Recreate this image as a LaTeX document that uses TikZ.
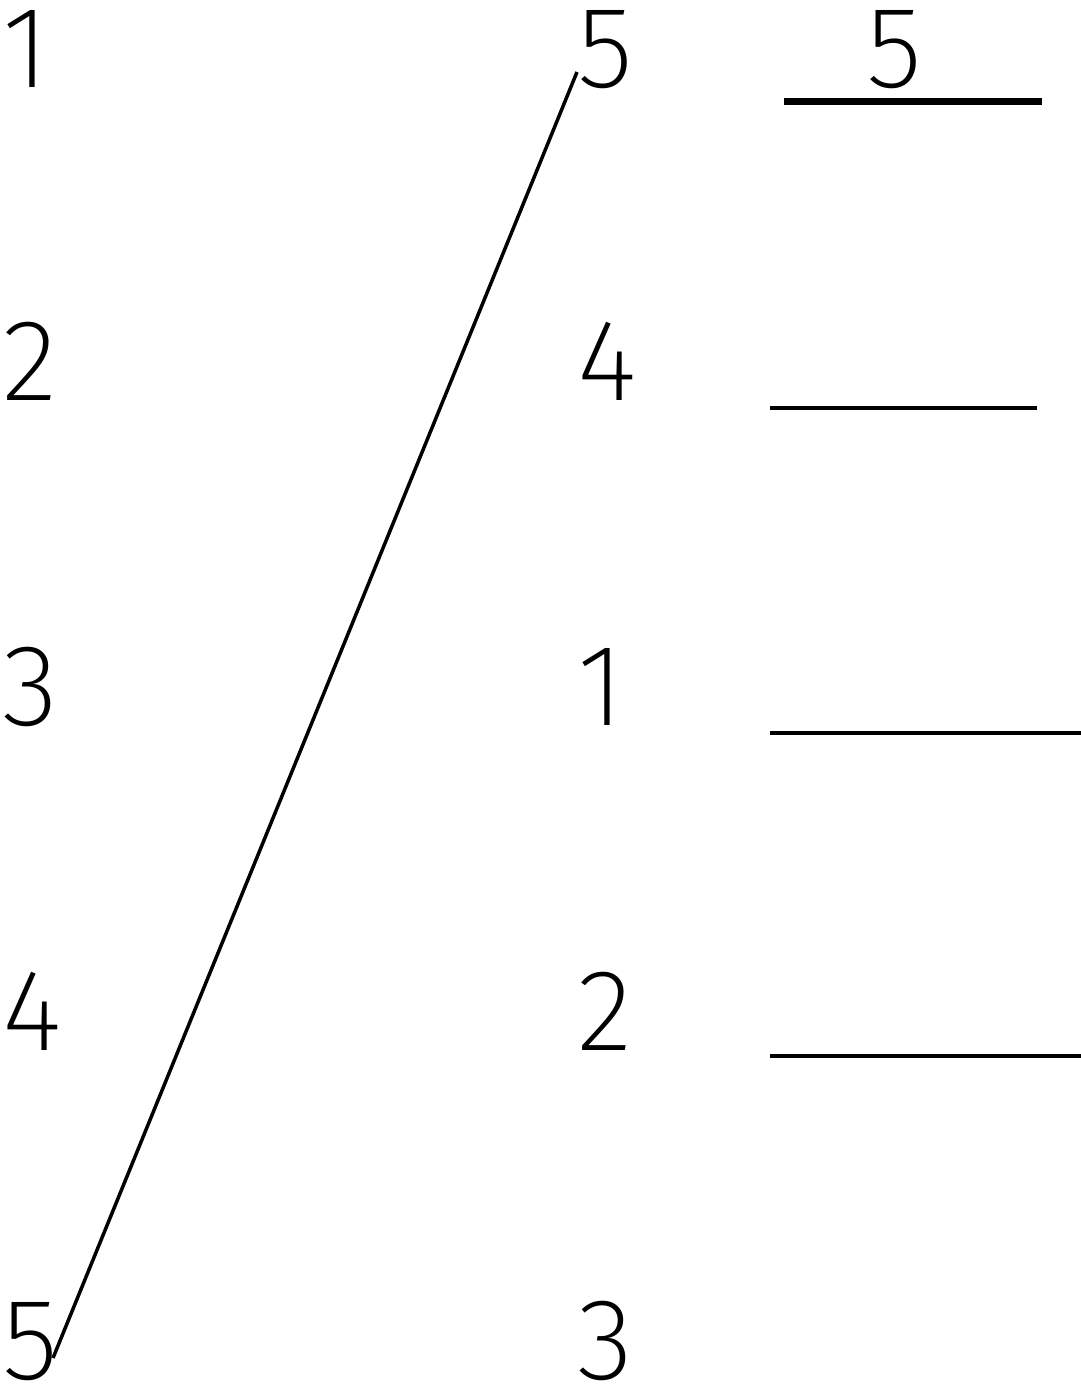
\documentclass[tikz,border=0pt]{standalone}
\usepackage{fontspec}
\newfontfamily\digitfont{Fira Sans ExtraLight}
\usetikzlibrary{calc}
\tikzset{
  digit/.style={inner sep=0pt, anchor=base west, font=\digitfont\fontsize{116}{116}\selectfont},
  match/.style={line width=3.5pt},
  blank/.style={line width=4pt},
  answer/.style={line width=7pt}
}
\begin{document}
\begin{tikzpicture}[x=1pt,y=-1pt]
\useasboundingbox (0,0) rectangle (1081,1387);
% left column
\node[digit] (l1) at (2,87) {1};
\node[digit] (l2) at (2,400) {2};
\node[digit] (l3) at (2,725) {3};
\node[digit] (l4) at (2,1050) {4};
\node[digit] (l5) at (2,1379) {5};
% middle column
\node[digit] (m5) at (577,87) {5};
\node[digit] (m4) at (577,400) {4};
\node[digit] (m1) at (577,725) {1};
\node[digit] (m2) at (577,1050) {2};
\node[digit] (m3) at (577,1379) {3};
% right column answer
\node[digit] (a5) at (866,87) {5};
\coordinate (b1s) at (784,101);
\coordinate (b1e) at (1042,101);
\coordinate (b2s) at (770,408);
\coordinate (b2e) at (1037,408);
\coordinate (b3s) at (770,733);
\coordinate (b3e) at (1081,733);
\coordinate (b4s) at (770,1056);
\coordinate (b4e) at (1081,1056);
\draw[answer] (b1s) -- (b1e);
\draw[blank] (b2s) -- (b2e);
\draw[blank] (b3s) -- (b3e);
\draw[blank] (b4s) -- (b4e);
% matching line
\coordinate (p1) at (53,1358);
\coordinate (p2) at (577,72);
\draw[match] (p1) -- (p2);
\end{tikzpicture}
\end{document}
